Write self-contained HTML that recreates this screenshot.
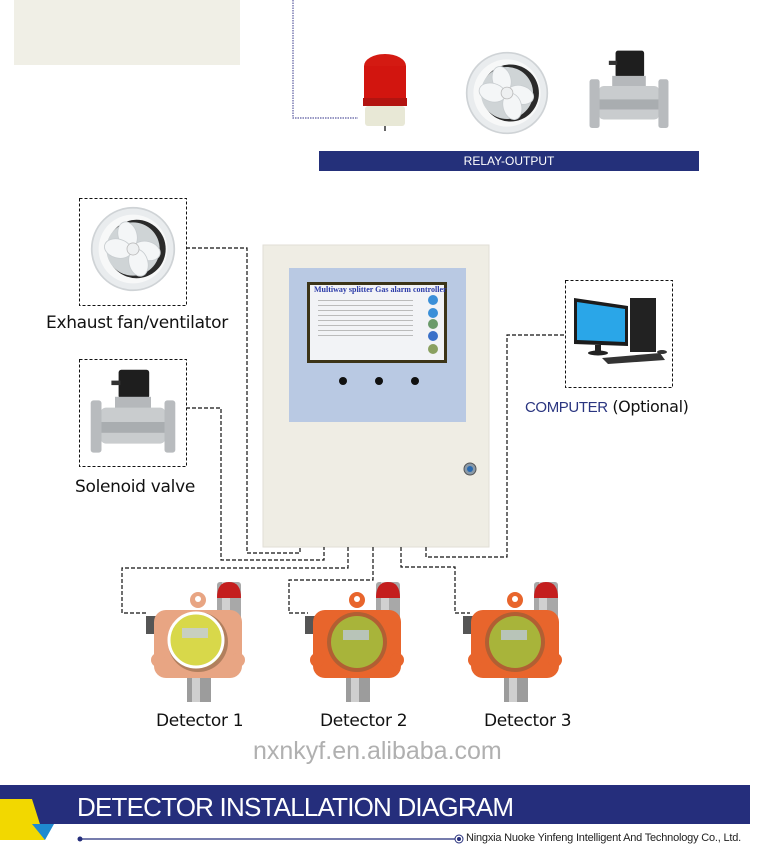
<!DOCTYPE html>
<html><head><meta charset="utf-8"><style>
html,body{margin:0;padding:0;background:#fff;}
body{width:769px;height:868px;position:relative;overflow:hidden;font-family:"Liberation Sans",sans-serif;}
.t{position:absolute;white-space:nowrap;}
</style></head><body>
<svg width="769" height="868" style="position:absolute;left:0;top:0">
<defs>
<symbol id="fan" viewBox="-50 -50 100 100">
 <circle r="48" fill="#e9ecee" stroke="#cfd3d6" stroke-width="2"/>
 <circle r="40" fill="#f7f8f8"/>
 <circle cx="4" r="34" fill="#2a2a2a"/>
 <circle r="31" fill="#cfd4d6"/>
 <g fill="#f4f6f7" stroke="#c8cdd0" stroke-width="1">
  <ellipse cx="-2" cy="-17" rx="11" ry="16" transform="rotate(-15)"/>
  <ellipse cx="16" cy="-2" rx="16" ry="11" transform="rotate(15)"/>
  <ellipse cx="2" cy="17" rx="11" ry="16" transform="rotate(-15)"/>
  <ellipse cx="-17" cy="4" rx="16" ry="11" transform="rotate(15)"/>
 </g>
 <circle r="7" fill="#eef0f1" stroke="#bbb"/>
</symbol>
<symbol id="valve" viewBox="0 0 100 100">
 <rect x="34" y="2" width="34" height="32" rx="3" fill="#1e1e1e"/>
 <rect x="26" y="14" width="10" height="5" fill="#333"/>
 <rect x="30" y="32" width="40" height="14" fill="#b5b8bb"/>
 <rect x="14" y="44" width="72" height="40" rx="6" fill="#c9ccce"/>
 <rect x="14" y="60" width="72" height="12" fill="#a9adb0"/>
 <rect x="3" y="36" width="12" height="58" rx="3" fill="#b8bbbe"/>
 <rect x="85" y="36" width="12" height="58" rx="3" fill="#b8bbbe"/>
</symbol>
<symbol id="beacon" viewBox="0 0 50 80">
 <ellipse cx="25" cy="14" rx="21" ry="12" fill="#d41a12"/>
 <rect x="4" y="14" width="42" height="34" fill="#d2150f"/>
 <rect x="3" y="46" width="44" height="8" fill="#b21410"/>
 <rect x="5" y="54" width="40" height="20" rx="3" fill="#e8e8d6"/>
 <rect x="24" y="74" width="2" height="5" fill="#666"/>
</symbol>
<symbol id="det" viewBox="-60 -60 120 125">
 <rect x="17" y="-58" width="24" height="62" rx="3" fill="#a8a8a8"/>
 <rect x="22" y="-58" width="8" height="62" fill="#d0d0d0"/>
 <path d="M17 -42 Q17 -58 29 -58 Q41 -58 41 -42Z" fill="#c41e1e"/>
 <rect x="-54" y="-24" width="10" height="18" fill="#555"/>
 <rect x="-13" y="38" width="24" height="24" fill="#9c9c9c"/>
 <rect x="-8" y="38" width="8" height="24" fill="#cfcfcf"/>
 <circle cx="-2" cy="-40" r="8" fill="currentColor"/>
 <circle cx="-2" cy="-41" r="3" fill="#fff"/>
 <rect x="-46" y="-30" width="88" height="68" rx="12" fill="currentColor"/>
 <circle cx="-42" cy="20" r="7" fill="currentColor"/>
 <circle cx="38" cy="20" r="7" fill="currentColor"/>
 <circle cx="-2" cy="2" r="30" fill="#7a5a3a" opacity=".5"/>
 <circle cx="-2" cy="2" r="26" fill="#a8b43a"/>
 <rect x="-16" y="-10" width="26" height="10" fill="#b8c4b8"/>
</symbol>
</defs>

<rect x="14" y="0" width="226" height="65" fill="#f0efe6"/>
<path d="M293 0 V118 H358" fill="none" stroke="#5a5aa0" stroke-width="1.2" stroke-dasharray="1.5 1"/>
<use href="#beacon" x="360" y="52" width="50" height="80"/>
<use href="#fan" x="465" y="51" width="84" height="84"/>
<use href="#valve" x="587" y="43" width="84" height="96"/>
<rect x="319" y="151" width="380" height="20" fill="#24307a"/>

<g fill="none" stroke="#111" stroke-width="1" stroke-dasharray="3 2">
 <rect x="79.5" y="198.5" width="107" height="107"/>
 <rect x="79.5" y="359.5" width="107" height="107"/>
 <rect x="565.5" y="280.5" width="107" height="107"/>
</g>
<use href="#fan" x="90" y="206" width="86" height="86"/>
<use href="#valve" x="88" y="366" width="90" height="94"/>
<g>
 <rect x="630" y="298" width="26" height="54" fill="#222"/>
 <polygon points="574,298 628,306 628,346 574,344" fill="#1c1c1c"/>
 <polygon points="577,302 625,309 625,342 577,340" fill="#2aa6e8"/>
 <rect x="595" y="345" width="6" height="6" fill="#222"/>
 <ellipse cx="598" cy="353" rx="10" ry="2.5" fill="#222"/>
 <polygon points="602,358 660,353 665,360 608,364" fill="#333"/>
 <ellipse cx="662" cy="352" rx="5" ry="2" fill="#333"/>
</g>

<rect x="263" y="245" width="226" height="302" fill="#efede4" stroke="#e0ded6"/>
<rect x="289" y="268" width="177" height="154" fill="#b9c9e3"/>
<rect x="307" y="282" width="140" height="81" fill="#3c3418"/>
<rect x="310" y="285" width="134" height="75" fill="#f2f3f6"/>
<g fill="#bbb">
 <rect x="318" y="300" width="95" height="1"/><rect x="318" y="305" width="95" height="1"/><rect x="318" y="310" width="95" height="1"/><rect x="318" y="315" width="95" height="1"/><rect x="318" y="320" width="95" height="1"/><rect x="318" y="325" width="95" height="1"/><rect x="318" y="330" width="95" height="1"/><rect x="318" y="335" width="95" height="1"/>
</g>
<circle cx="433" cy="300" r="5" fill="#3a8fd8"/><circle cx="433" cy="313" r="5" fill="#3a8fd8"/><circle cx="433" cy="324" r="5" fill="#6a9a6a"/><circle cx="433" cy="336" r="5" fill="#3a70c8"/><circle cx="433" cy="349" r="5" fill="#8aa060"/>
<circle cx="343" cy="381" r="4" fill="#111"/><circle cx="379" cy="381" r="4" fill="#111"/><circle cx="415" cy="381" r="4" fill="#111"/>
<circle cx="470" cy="469" r="6" fill="#8a9aa8" stroke="#555"/><circle cx="470" cy="469" r="3" fill="#2a6ab0"/>

<g fill="none" stroke="#111" stroke-width="1.2" stroke-dasharray="4 2">
 <path d="M186 248 H247 V553 H300 V547"/>
 <path d="M186 408 H221 V560 H324 V547"/>
 <path d="M348 547 V568 H122 V613 H146"/>
 <path d="M373 547 V580 H289 V613 H308"/>
 <path d="M401 547 V567 H455 V613 H470"/>
 <path d="M426 547 V557 H507 V335 H565"/>
</g>

<use href="#det" x="140" y="580" width="120" height="125" style="color:#e8a583"/>
<use href="#det" x="299" y="580" width="120" height="125" style="color:#e8652c"/>
<use href="#det" x="457" y="580" width="120" height="125" style="color:#e8652c"/>
<circle cx="196" cy="640" r="27" fill="#d8d84a" stroke="#fff" stroke-width="3"/>
<rect x="182" y="628" width="26" height="10" fill="#c8cfc0"/>

<rect x="0" y="785" width="750" height="39" fill="#252e7c"/>
<polygon points="0,799 32,799 45,840 0,840" fill="#f2d800"/>
<polygon points="32,824 54,824 45,840" fill="#1f8ad0"/>
<line x1="80" y1="839" x2="455" y2="839" stroke="#252e7c" stroke-width="1.2"/>
<circle cx="80" cy="839" r="2.5" fill="#252e7c"/>
<circle cx="459" cy="839" r="4" fill="none" stroke="#252e7c"/>
<circle cx="459" cy="839" r="2" fill="#252e7c"/>
</svg>

<div class="t" style="left:319px;top:154px;width:380px;text-align:center;color:#fff;font-size:12px;">RELAY-OUTPUT</div>
<div class="t" style="left:46px;top:313px;font-size:17px;color:#111;font-family:'DejaVu Sans',sans-serif;letter-spacing:-0.3px">Exhaust fan/ventilator</div>
<div class="t" style="left:75px;top:477px;font-size:17px;color:#111;font-family:'DejaVu Sans',sans-serif;letter-spacing:-0.3px">Solenoid valve</div>
<div class="t" style="left:525px;top:397px;font-size:15px;color:#2a3580;letter-spacing:-0.4px">COMPUTER<span style="color:#111;font-family:'DejaVu Sans',sans-serif;font-size:16px"> (Optional)</span></div>
<div class="t" style="left:314px;top:285px;font-size:8px;color:#2a3aa8;font-family:'Liberation Serif',serif;font-weight:bold">Multiway splitter Gas alarm controller</div>
<div class="t" style="left:156px;top:711px;font-size:17px;color:#111;font-family:'DejaVu Sans',sans-serif;letter-spacing:-0.3px">Detector 1</div>
<div class="t" style="left:320px;top:711px;font-size:17px;color:#111;font-family:'DejaVu Sans',sans-serif;letter-spacing:-0.3px">Detector 2</div>
<div class="t" style="left:484px;top:711px;font-size:17px;color:#111;font-family:'DejaVu Sans',sans-serif;letter-spacing:-0.3px">Detector 3</div>
<div class="t" style="left:253px;top:737px;font-size:25px;color:#b0b0b0;">nxnkyf.en.alibaba.com</div>
<div class="t" style="left:77px;top:792px;font-size:26px;color:#fff;letter-spacing:-0.8px">DETECTOR INSTALLATION DIAGRAM</div>
<div class="t" style="left:466px;top:832px;font-size:11px;color:#222;letter-spacing:-0.2px">Ningxia Nuoke Yinfeng Intelligent And Technology Co., Ltd.</div>
</body></html>
